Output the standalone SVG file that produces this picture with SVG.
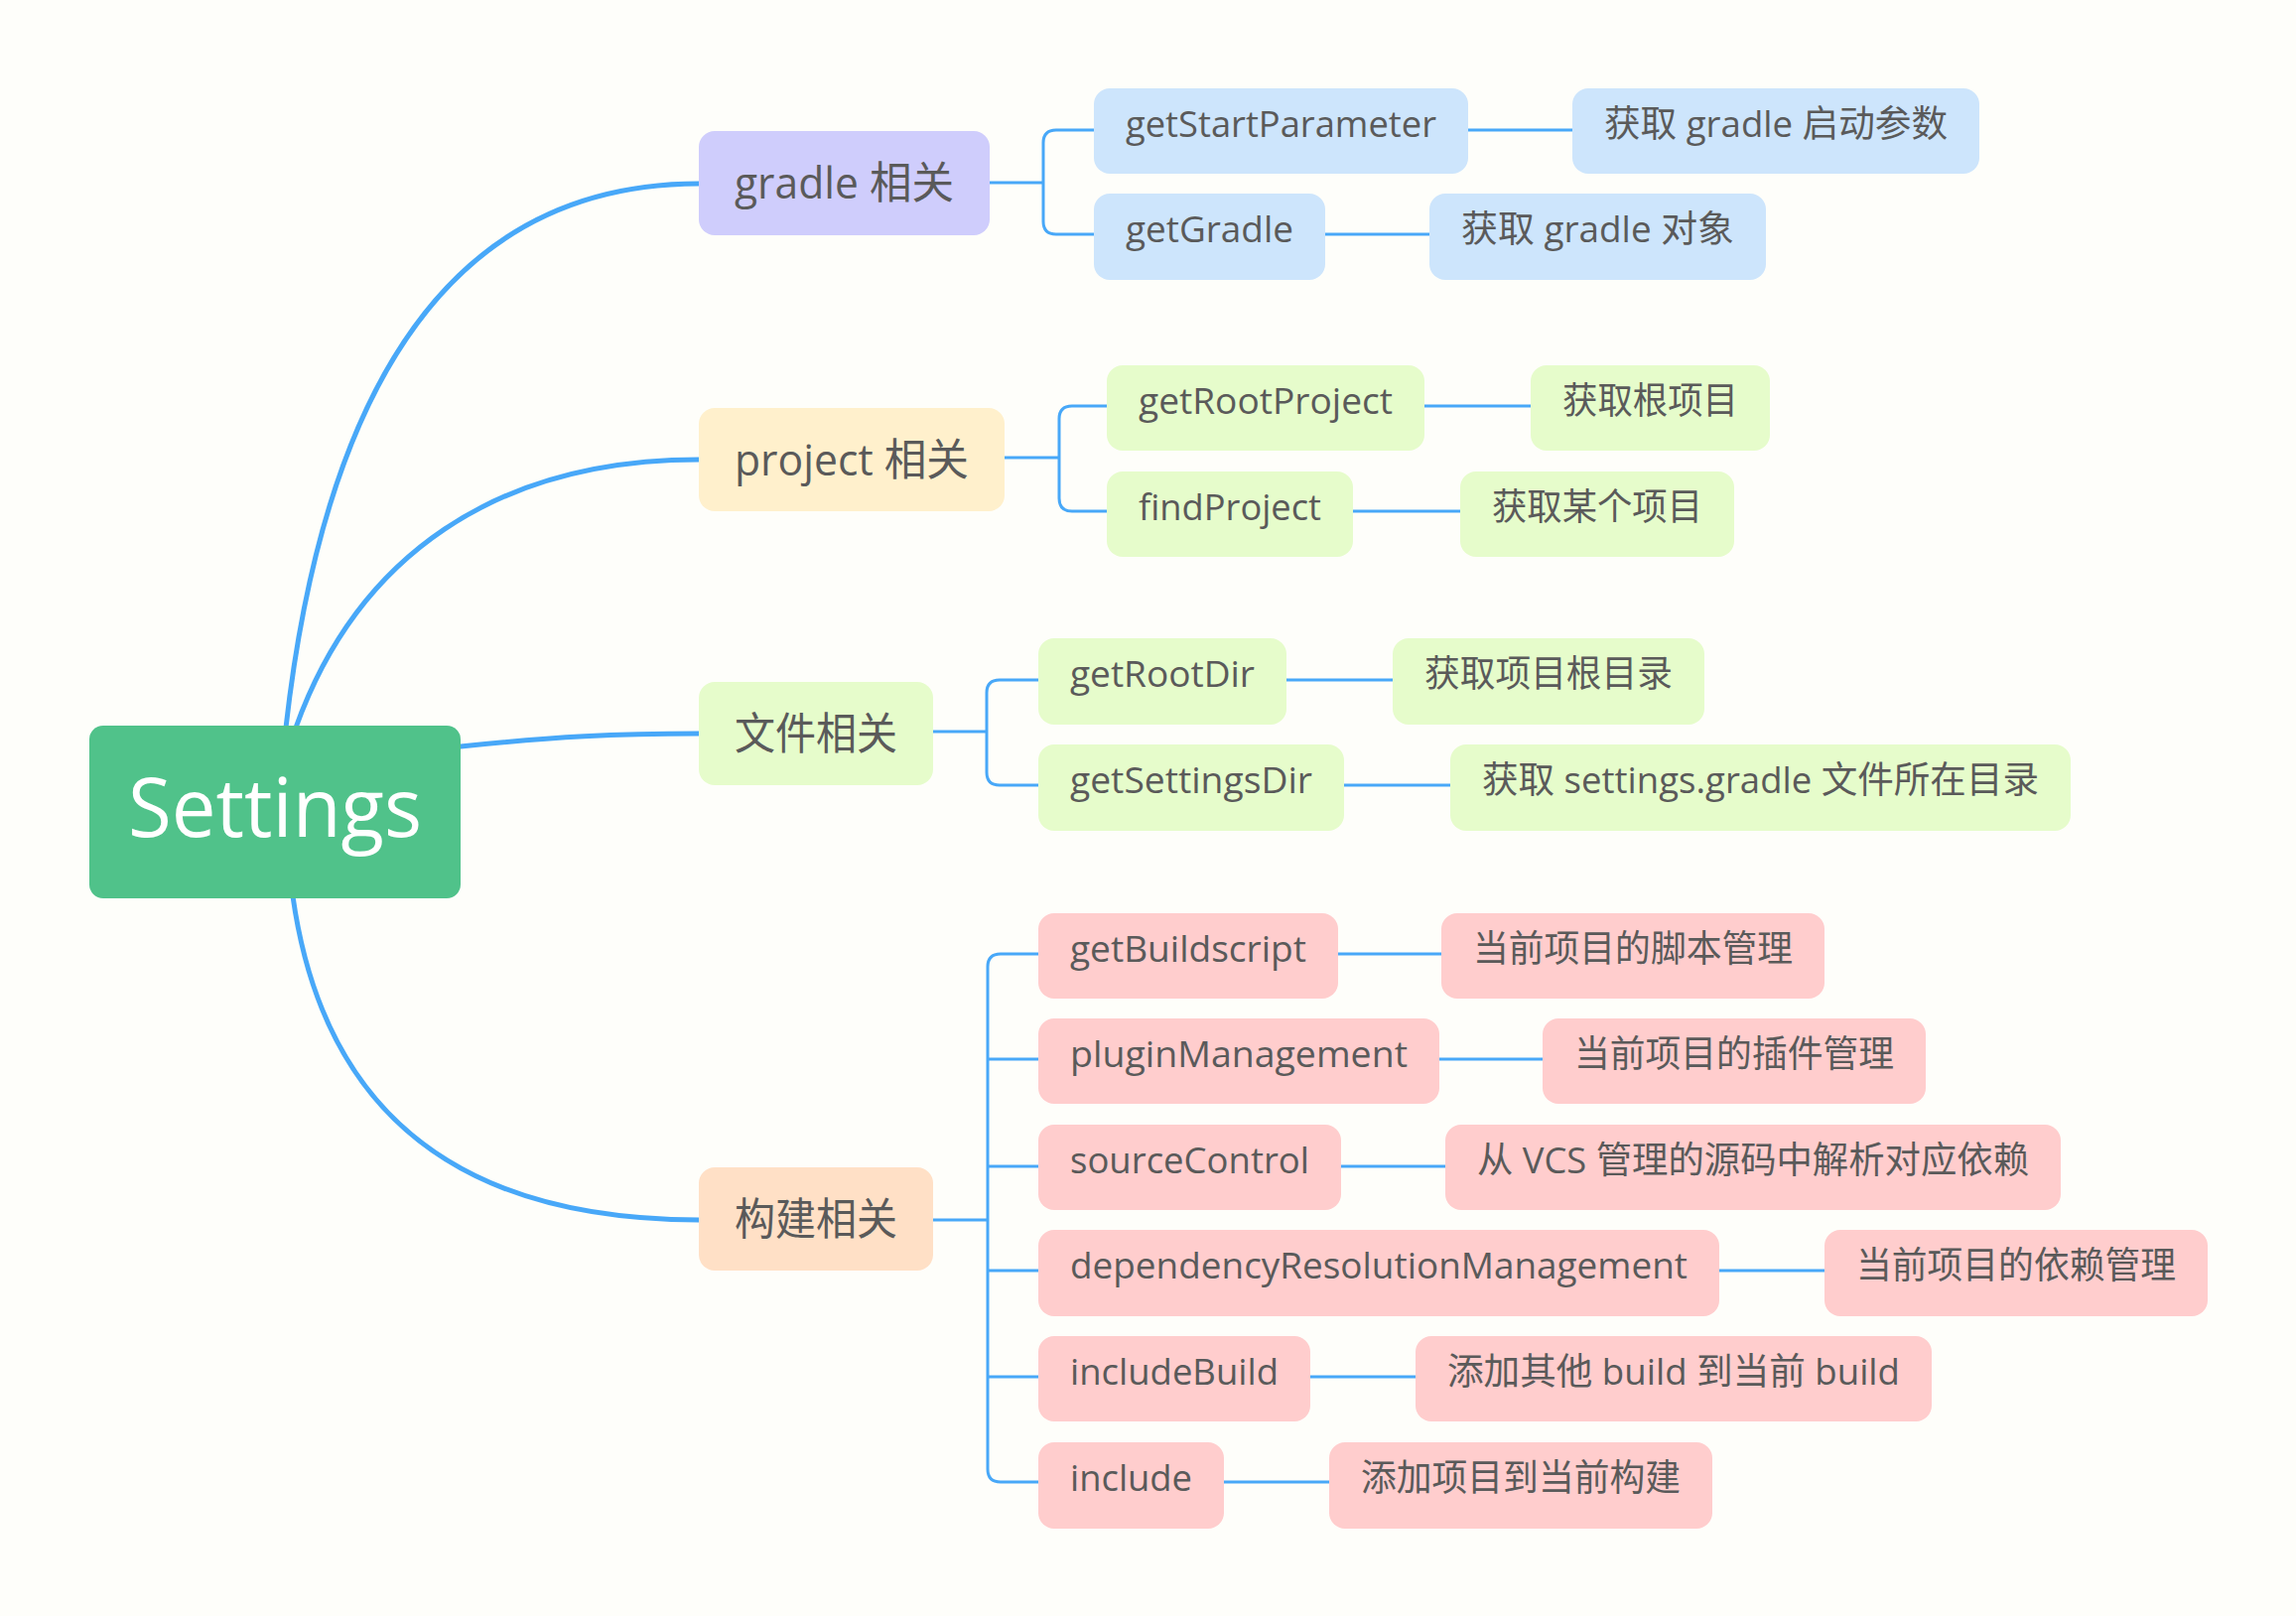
<svg xmlns="http://www.w3.org/2000/svg" width="2313" height="1628" viewBox="0 0 2313 1628">
<style>
  text { font-family: "Open Sans", "Noto Sans CJK SC", sans-serif; fill: #5a5a5a; }
  .t { font-size: 37px; }
  .m { font-size: 44px; }
  .root { font-size: 83px; fill: #ffffff; }
  .main { fill: none; stroke: #48a8f8; stroke-width: 5; stroke-linecap: round; }
  .sub { fill: none; stroke: #48a8f8; stroke-width: 3; }
  .blue { fill: #cde5fc; }
  .green { fill: #e6fccb; }
  .pink { fill: #ffcdcd; }
</style>
<rect x="0" y="0" width="2313" height="1628" fill="#fefefa"/>
<g id="connectors">
  <path class="main" d="M 288 733 C 320 450, 420 185, 704 185"/>
  <path class="main" d="M 298 733 C 360 560, 500 463, 704 463"/>
  <path class="main" d="M 464 752 C 560 742, 620 739, 704 739"/>
  <path class="main" d="M 295 903 C 320 1080, 420 1229, 704 1229"/>
  <path class="sub" d="M 997 184 H 1051"/>
  <path class="sub" d="M 1102 131 H 1064 Q 1051 131 1051 144 V 223 Q 1051 236 1064 236 H 1102"/>
  <path class="sub" d="M 1479 131 H 1584"/>
  <path class="sub" d="M 1335 236 H 1440"/>
  <path class="sub" d="M 1012 461 H 1067"/>
  <path class="sub" d="M 1115 409 H 1080 Q 1067 409 1067 422 V 502 Q 1067 515 1080 515 H 1115"/>
  <path class="sub" d="M 1435 409 H 1542"/>
  <path class="sub" d="M 1363 515 H 1471"/>
  <path class="sub" d="M 940 737 H 994"/>
  <path class="sub" d="M 1046 685 H 1007 Q 994 685 994 698 V 778 Q 994 791 1007 791 H 1046"/>
  <path class="sub" d="M 1296 685 H 1403"/>
  <path class="sub" d="M 1354 791 H 1461"/>
  <path class="sub" d="M 940 1229 H 995"/>
  <path class="sub" d="M 1046 961 H 1008 Q 995 961 995 974 V 1480 Q 995 1493 1008 1493 H 1046"/>
  <path class="sub" d="M 995 1067 H 1046"/>
  <path class="sub" d="M 995 1175 H 1046"/>
  <path class="sub" d="M 995 1280 H 1046"/>
  <path class="sub" d="M 995 1387 H 1046"/>
  <path class="sub" d="M 1348 961 H 1452"/>
  <path class="sub" d="M 1450 1067 H 1554"/>
  <path class="sub" d="M 1351 1175 H 1456"/>
  <path class="sub" d="M 1732 1280 H 1838"/>
  <path class="sub" d="M 1320 1387 H 1426"/>
  <path class="sub" d="M 1233 1493 H 1339"/>
</g>

<g id="settings">
  <rect x="90" y="731" width="374" height="174" rx="14" fill="#50c28a"/>
  <text class="root" x="129" y="843" textLength="296" lengthAdjust="spacingAndGlyphs">Settings</text>
</g>

<g id="gradle">
  <rect x="704" y="132" width="293" height="105" rx="16" fill="#cfcdfc"/>
  <text class="m" x="740" y="200" textLength="221" lengthAdjust="spacingAndGlyphs">gradle 相关</text>
</g>
<g id="project">
  <rect x="704" y="411" width="308" height="104" rx="16" fill="#fff0cc"/>
  <text class="m" x="740" y="479" textLength="236" lengthAdjust="spacingAndGlyphs">project 相关</text>
</g>
<g id="file">
  <rect x="704" y="687" width="236" height="104" rx="16" fill="#e6fccb"/>
  <text class="m" x="740" y="755" textLength="164" lengthAdjust="spacingAndGlyphs">文件相关</text>
</g>
<g id="build">
  <rect x="704" y="1176" width="236" height="104" rx="16" fill="#ffe0c6"/>
  <text class="m" x="740" y="1244" textLength="164" lengthAdjust="spacingAndGlyphs">构建相关</text>
</g>

<g id="getStartParameter">
  <rect class="blue" x="1102" y="89" width="377" height="86" rx="16"/>
  <text class="t" x="1134" y="138" textLength="313" lengthAdjust="spacingAndGlyphs">getStartParameter</text>
</g>
<g id="desc-getStartParameter">
  <rect class="blue" x="1584" y="89" width="410" height="86" rx="16"/>
  <text class="t" x="1616" y="138" textLength="346" lengthAdjust="spacingAndGlyphs">获取 gradle 启动参数</text>
</g>
<g id="getGradle">
  <rect class="blue" x="1102" y="195" width="233" height="87" rx="16"/>
  <text class="t" x="1134" y="244" textLength="169" lengthAdjust="spacingAndGlyphs">getGradle</text>
</g>
<g id="desc-getGradle">
  <rect class="blue" x="1440" y="195" width="339" height="87" rx="16"/>
  <text class="t" x="1472" y="244" textLength="275" lengthAdjust="spacingAndGlyphs">获取 gradle 对象</text>
</g>

<g id="getRootProject">
  <rect class="green" x="1115" y="368" width="320" height="86" rx="16"/>
  <text class="t" x="1147" y="417" textLength="256" lengthAdjust="spacingAndGlyphs">getRootProject</text>
</g>
<g id="desc-getRootProject">
  <rect class="green" x="1542" y="368" width="241" height="86" rx="16"/>
  <text class="t" x="1574" y="417" textLength="177" lengthAdjust="spacingAndGlyphs">获取根项目</text>
</g>
<g id="findProject">
  <rect class="green" x="1115" y="475" width="248" height="86" rx="16"/>
  <text class="t" x="1147" y="524" textLength="184" lengthAdjust="spacingAndGlyphs">findProject</text>
</g>
<g id="desc-findProject">
  <rect class="green" x="1471" y="475" width="276" height="86" rx="16"/>
  <text class="t" x="1503" y="524" textLength="212" lengthAdjust="spacingAndGlyphs">获取某个项目</text>
</g>

<g id="getRootDir">
  <rect class="green" x="1046" y="643" width="250" height="87" rx="16"/>
  <text class="t" x="1078" y="692" textLength="186" lengthAdjust="spacingAndGlyphs">getRootDir</text>
</g>
<g id="desc-getRootDir">
  <rect class="green" x="1403" y="643" width="314" height="87" rx="16"/>
  <text class="t" x="1435" y="692" textLength="250" lengthAdjust="spacingAndGlyphs">获取项目根目录</text>
</g>
<g id="getSettingsDir">
  <rect class="green" x="1046" y="750" width="308" height="87" rx="16"/>
  <text class="t" x="1078" y="799" textLength="244" lengthAdjust="spacingAndGlyphs">getSettingsDir</text>
</g>
<g id="desc-getSettingsDir">
  <rect class="green" x="1461" y="750" width="625" height="87" rx="16"/>
  <text class="t" x="1493" y="799" textLength="561" lengthAdjust="spacingAndGlyphs">获取 settings.gradle 文件所在目录</text>
</g>

<g id="getBuildscript">
  <rect class="pink" x="1046" y="920" width="302" height="86" rx="16"/>
  <text class="t" x="1078" y="969" textLength="238" lengthAdjust="spacingAndGlyphs">getBuildscript</text>
</g>
<g id="desc-getBuildscript">
  <rect class="pink" x="1452" y="920" width="386" height="86" rx="16"/>
  <text class="t" x="1484" y="969" textLength="322" lengthAdjust="spacingAndGlyphs">当前项目的脚本管理</text>
</g>
<g id="pluginManagement">
  <rect class="pink" x="1046" y="1026" width="404" height="86" rx="16"/>
  <text class="t" x="1078" y="1075" textLength="340" lengthAdjust="spacingAndGlyphs">pluginManagement</text>
</g>
<g id="desc-pluginManagement">
  <rect class="pink" x="1554" y="1026" width="386" height="86" rx="16"/>
  <text class="t" x="1586" y="1075" textLength="322" lengthAdjust="spacingAndGlyphs">当前项目的插件管理</text>
</g>
<g id="sourceControl">
  <rect class="pink" x="1046" y="1133" width="305" height="86" rx="16"/>
  <text class="t" x="1078" y="1182" textLength="241" lengthAdjust="spacingAndGlyphs">sourceControl</text>
</g>
<g id="desc-sourceControl">
  <rect class="pink" x="1456" y="1133" width="620" height="86" rx="16"/>
  <text class="t" x="1488" y="1182" textLength="556" lengthAdjust="spacingAndGlyphs">从 VCS 管理的源码中解析对应依赖</text>
</g>
<g id="dependencyResolutionManagement">
  <rect class="pink" x="1046" y="1239" width="686" height="87" rx="16"/>
  <text class="t" x="1078" y="1288" textLength="622" lengthAdjust="spacingAndGlyphs">dependencyResolutionManagement</text>
</g>
<g id="desc-dependencyResolutionManagement">
  <rect class="pink" x="1838" y="1239" width="386" height="87" rx="16"/>
  <text class="t" x="1870" y="1288" textLength="322" lengthAdjust="spacingAndGlyphs">当前项目的依赖管理</text>
</g>
<g id="includeBuild">
  <rect class="pink" x="1046" y="1346" width="274" height="86" rx="16"/>
  <text class="t" x="1078" y="1395" textLength="210" lengthAdjust="spacingAndGlyphs">includeBuild</text>
</g>
<g id="desc-includeBuild">
  <rect class="pink" x="1426" y="1346" width="520" height="86" rx="16"/>
  <text class="t" x="1458" y="1395" textLength="456" lengthAdjust="spacingAndGlyphs">添加其他 build 到当前 build</text>
</g>
<g id="include">
  <rect class="pink" x="1046" y="1453" width="187" height="87" rx="16"/>
  <text class="t" x="1078" y="1502" textLength="123" lengthAdjust="spacingAndGlyphs">include</text>
</g>
<g id="desc-include">
  <rect class="pink" x="1339" y="1453" width="386" height="87" rx="16"/>
  <text class="t" x="1371" y="1502" textLength="322" lengthAdjust="spacingAndGlyphs">添加项目到当前构建</text>
</g>
</svg>
